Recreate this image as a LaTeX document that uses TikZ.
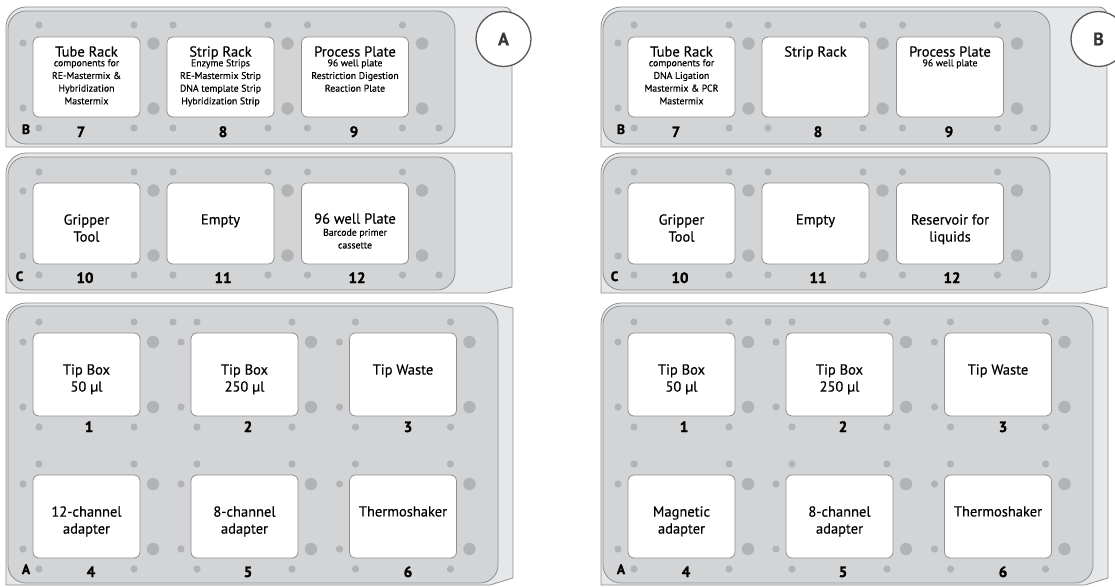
\documentclass[tikz,border=0pt]{standalone}
\usepackage{fontspec}
\setmainfont{PT Sans}[FakeBold=0.35]
\newfontfamily\heavyfont{PT Sans}[BoldFeatures={FakeBold=1.4}]
\usepackage{tikz}
\usetikzlibrary{positioning}

\definecolor{outerfill}{HTML}{E6E7E9}
\definecolor{innerfill}{HTML}{D3D4D6}
\definecolor{plateline}{HTML}{8E8F91}
\definecolor{holefill}{HTML}{B2B3B5}
\definecolor{tagline}{HTML}{58595B}

\tikzset{
	outerplate/.style={draw=plateline, fill=outerfill, line width=0.8pt, line join=round},
	innerplate/.style={draw=plateline, fill=innerfill, line width=0.8pt, rounded corners=18pt},
	slot/.style={draw=plateline, fill=white, line width=0.8pt, rounded corners=6pt, minimum width=107pt, inner sep=0pt},
	title/.style={font=\fontsize{14.5}{17}\selectfont, align=center, inner sep=0pt},
	sub/.style={font=\fontsize{9.8}{12.7}\selectfont, align=center, inner sep=0pt},
	num/.style={font=\fontsize{15}{15}\heavyfont\bfseries, anchor=base, inner sep=0pt},
	deck/.style={font=\fontsize{13.5}{13.5}\heavyfont\bfseries, anchor=base, inner sep=0pt},
	tag/.style={circle, draw=tagline, fill=white, line width=1.3pt, minimum size=55pt, inner sep=0pt, font=\fontsize{18}{18}\selectfont\bfseries, text=tagline!60!black}
}

\begin{document}
\begin{tikzpicture}[x=1pt,y=-1pt]
	\useasboundingbox (0,0) rectangle (1115,586);
	\clip (0,0) rectangle (1115,586);
	\foreach \dx/\lab in {0/A,595/B}{
	\begin{scope}[xshift=\dx]
		% carrier B
		\draw[outerplate] (6,147) -- (6,27) .. controls (6,16) and (15,7) .. (26,7) -- (504,7) .. controls (508.4,7) and (512,10.6) .. (512,15) -- (512,147) -- cycle;
		\draw[innerplate] (8,11) rectangle (455,144);
		% carrier C
		\draw[outerplate] (6,293) -- (6,173) .. controls (6,162) and (15,153) .. (26,153) -- (512,153) -- (512,287) -- (487,293) -- cycle;
		\draw[innerplate] (8,157) rectangle (455,290);
		% carrier A
		\draw[outerplate] (6,585) -- (6,323) .. controls (6,312) and (15,303) .. (26,303) -- (490,303) -- (513,308) -- (513,578) -- (490,585) -- cycle;
		\draw[innerplate] (8,306) rectangle (498,583);
		%
		\foreach \cx in {86.5,220.5,355}{
			\foreach \ty/\by in {25/128,172/275}{
				\fill[holefill] (\cx-47.5,\ty) circle[radius=3.6pt] (\cx+47.5,\ty) circle[radius=3.6pt]
					(\cx-47.5,\by) circle[radius=3.6pt] (\cx+47.5,\by) circle[radius=3.6pt]
					(\cx+67,\ty+18.5) circle[radius=6.2pt] (\cx+67,\by-19.5) circle[radius=6.2pt];
			}
		}
		\fill[holefill] (23,43) circle[radius=3.6pt] (23,108) circle[radius=3.6pt] (439,128) circle[radius=3.6pt]
			(23,191) circle[radius=3.6pt] (23,256) circle[radius=3.6pt] (439,275) circle[radius=3.6pt];
		\foreach \cx in {86.5,244.5,403}{
			\foreach \t in {333,475}{
				\fill[holefill] (\cx-47.5,\t-11) circle[radius=3.6pt] (\cx+47.5,\t-11) circle[radius=3.6pt]
					(\cx-47.5,\t+94) circle[radius=3.6pt] (\cx+47.5,\t+94) circle[radius=3.6pt]
					(\cx-63.5,\t+9) circle[radius=3.6pt] (\cx-63.5,\t+74) circle[radius=3.6pt]
					(\cx+66.5,\t+9) circle[radius=6.2pt] (\cx+66.5,\t+74) circle[radius=6.2pt];
			}
		}
		\fill[holefill] (173,322) circle[radius=3.6pt];
		%
		\foreach \n/\cx/\cy/\h in {7/86.5/77/80, 8/220.5/77/80, 9/355/77/80,
			10/86.5/223.5/81, 11/220.5/223.5/81, 12/355/223.5/81,
			1/86.5/374.5/83, 2/244.5/374.5/83, 3/403/374.5/83,
			4/86.5/516.5/83, 5/244.5/516.5/83, 6/403/516.5/83}
			\node[slot, minimum height=\h] (s\n\lab) at (\cx,\cy) {};
		\foreach \n/\x/\y in {7/81/137, 8/223/137, 9/354/137, 10/85/283, 11/223/283, 12/357/283,
			1/89/432, 2/248/432, 3/408/432, 4/91/577, 5/248/577, 6/408/577}
			\node[num] (n\n\lab) at (\x,\y) {\n};
		\node[deck] (dB\lab) at (26,134) {B};
		\node[deck] (dC\lab) at (19.5,281) {C};
		\node[deck] (dA\lab) at (26,574) {A};
		\node[tag] (tag\lab) at (503.5,39) {\lab};
	\end{scope}
	}
	% panel A
	\node[title, anchor=base] (t7A) at ([yshift=-20pt]s7A.north) {Tube Rack};
	\node[sub, below=2.5pt of t7A.base] (u7A) {components for\\RE-Mastermix \&\\Hybridization\\Mastermix};
	\node[title, anchor=base] (t8A) at ([yshift=-20pt]s8A.north) {Strip Rack};
	\node[sub, below=2.5pt of t8A.base] (u8A) {Enzyme Strips\\RE-Mastermix Strip\\DNA template Strip\\Hybridization Strip};
	\node[title, anchor=base] (t9A) at ([yshift=-20pt]s9A.north) {Process Plate};
	\node[sub, below=2.5pt of t9A.base] (u9A) {96 well plate\\Restriction Digestion\\Reaction Plate};
	\node[title, anchor=north] (t10A) at ([yshift=-31.5pt]s10A.north) {Gripper\\Tool};
	\node[title, anchor=north] (t11A) at ([yshift=-31.5pt]s11A.north) {Empty};
	\node[title, anchor=base] (t12A) at ([yshift=-41pt]s12A.north) {96 well Plate};
	\node[sub, below=5pt of t12A.base] (u12A) {Barcode primer\\cassette};
	\node[title, anchor=north] (t1A) at ([yshift=-31.5pt]s1A.north) {Tip Box\\50 µl};
	\node[title, anchor=north] (t2A) at ([yshift=-31.5pt]s2A.north) {Tip Box\\250 µl};
	\node[title, anchor=north] (t3A) at ([yshift=-31.5pt]s3A.north) {Tip Waste};
	\node[title, anchor=north] (t4A) at ([yshift=-31.5pt]s4A.north) {12-channel\\adapter};
	\node[title, anchor=north] (t5A) at ([yshift=-31.5pt]s5A.north) {8-channel\\adapter};
	\node[title, anchor=north] (t6A) at ([yshift=-31.5pt]s6A.north) {Thermoshaker};
	% panel B
	\node[title, anchor=base] (t7B) at ([yshift=-20pt]s7B.north) {Tube Rack};
	\node[sub, below=2.5pt of t7B.base] (u7B) {components for\\DNA Ligation\\Mastermix \& PCR\\Mastermix};
	\node[title, anchor=base] (t8B) at ([yshift=-20pt]s8B.north) {Strip Rack};
	\node[title, anchor=base] (t9B) at ([yshift=-20pt]s9B.north) {Process Plate};
	\node[sub, below=2.5pt of t9B.base] (u9B) {96 well plate};
	\node[title, anchor=north] (t10B) at ([yshift=-31.5pt]s10B.north) {Gripper\\Tool};
	\node[title, anchor=north] (t11B) at ([yshift=-31.5pt]s11B.north) {Empty};
	\node[title, anchor=north] (t12B) at ([yshift=-31.5pt]s12B.north) {Reservoir for\\liquids};
	\node[title, anchor=north] (t1B) at ([yshift=-31.5pt]s1B.north) {Tip Box\\50 µl};
	\node[title, anchor=north] (t2B) at ([yshift=-31.5pt]s2B.north) {Tip Box\\250 µl};
	\node[title, anchor=north] (t3B) at ([yshift=-31.5pt]s3B.north) {Tip Waste};
	\node[title, anchor=north] (t4B) at ([yshift=-31.5pt]s4B.north) {Magnetic\\adapter};
	\node[title, anchor=north] (t5B) at ([yshift=-31.5pt]s5B.north) {8-channel\\adapter};
	\node[title, anchor=north] (t6B) at ([yshift=-31.5pt]s6B.north) {Thermoshaker};
\end{tikzpicture}
\end{document}
